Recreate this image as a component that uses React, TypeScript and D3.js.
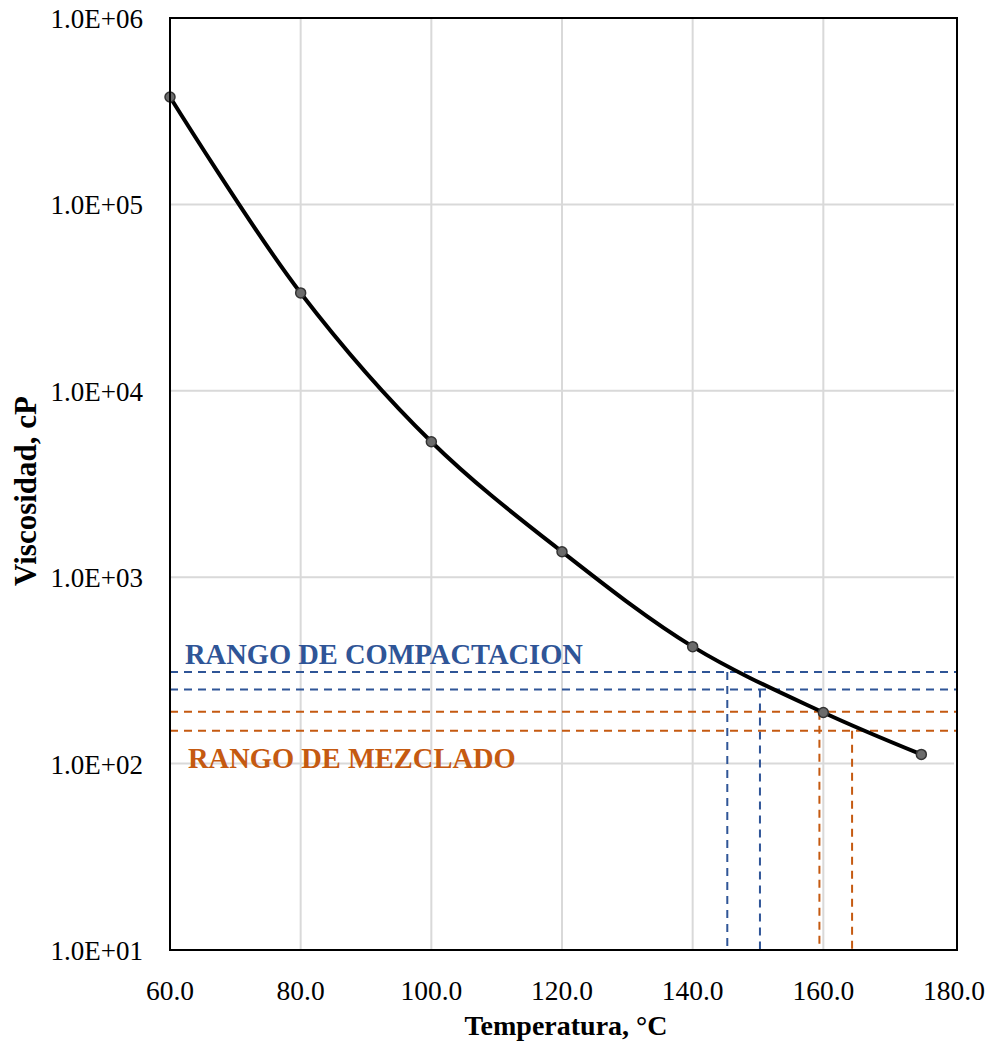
import React from "react";
import * as d3 from "d3";

const temps = [60, 80, 100, 120, 140, 160, 175];
const viscosity = [377000, 33500, 5330, 1370, 424, 188, 112];
const xTicks = [60, 80, 100, 120, 140, 160, 180];
const yTicks = [1e1, 1e2, 1e3, 1e4, 1e5, 1e6];
const compaction = { visc: [310, 250], temp: [145.3, 150.3] };
const mixing = { visc: [190, 150], temp: [159.4, 164.4] };
const BLUE = "#2F5597";
const ORANGE = "#C55A11";

const W = 990;
const H = 1042;
const m = { left: 170, right: 954, top: 18, bottom: 950 };

export default function App() {
  const x = d3.scaleLinear().domain([60, 180]).range([m.left, m.right]);
  const y = d3.scaleLog().domain([10, 1e6]).range([m.bottom, m.top]);
  const pts = temps.map((t, i) => [t, viscosity[i]] as [number, number]);
  const line = d3
    .line<[number, number]>()
    .x((d) => x(d[0]))
    .y((d) => y(d[1]))
    .curve(d3.curveCatmullRom.alpha(0.5));
  const font = "'Liberation Serif', 'Times New Roman', serif";
  const fmt = (v: number) => "1.0E+" + String(Math.round(Math.log10(v))).padStart(2, "0");

  const ranges = [
    { r: compaction, c: BLUE },
    { r: mixing, c: ORANGE },
  ];

  return (
    <svg width={W} height={H} style={{ position: "absolute", left: 0, top: 0 }} fontFamily={font}>
      <rect width={W} height={H} fill="#fff" />
      {xTicks.slice(1, -1).map((t) => (
        <line key={"gx" + t} x1={x(t)} x2={x(t)} y1={m.top} y2={m.bottom} stroke="#d9d9d9" strokeWidth={2} />
      ))}
      {yTicks.slice(1, -1).map((t) => (
        <line key={"gy" + t} x1={m.left} x2={m.right} y1={y(t)} y2={y(t)} stroke="#d9d9d9" strokeWidth={2} />
      ))}
      {ranges.map(({ r, c }, k) => (
        <g key={"r" + k} stroke={c} strokeWidth={2} strokeDasharray="8,6" fill="none">
          {r.visc.map((v, i) => (
            <g key={i}>
              <line x1={m.left} x2={m.right + 3} y1={y(v)} y2={y(v)} />
              <line x1={x(r.temp[i])} x2={x(r.temp[i])} y1={y(v)} y2={m.bottom} />
            </g>
          ))}
        </g>
      ))}
      <path d={line(pts) || ""} fill="none" stroke="#000" strokeWidth={4} />
      {pts.map((p, i) => (
        <circle key={i} cx={x(p[0])} cy={y(p[1])} r={5} fill="#6b6b6b" stroke="#333" strokeWidth={1.5} />
      ))}
      <rect x={m.left} y={m.top} width={m.right + 3 - m.left} height={m.bottom - m.top} fill="none" stroke="#000" strokeWidth={2} />
      {yTicks.map((t) => (
        <text key={"yl" + t} x={m.left - 27} y={y(t) + 10} textAnchor="end" fontSize={27} fill="#000">
          {fmt(t)}
        </text>
      ))}
      {xTicks.map((t) => (
        <text key={"xl" + t} x={x(t)} y={m.bottom + 50} textAnchor="middle" fontSize={27.5} fill="#000">
          {t.toFixed(1)}
        </text>
      ))}
      <text x={566} y={1035} textAnchor="middle" fontSize={28} fontWeight="bold">
        Temperatura, °C
      </text>
      <text transform={`translate(36, 491) rotate(-90)`} textAnchor="middle" fontSize={31} fontWeight="bold">
        Viscosidad, cP
      </text>
      <text x={185} y={664} fontSize={28.5} fontWeight="bold" fill={BLUE}>
        RANGO DE COMPACTACION
      </text>
      <text x={188} y={768} fontSize={28.5} fontWeight="bold" fill={ORANGE}>
        RANGO DE MEZCLADO
      </text>
    </svg>
  );
}
